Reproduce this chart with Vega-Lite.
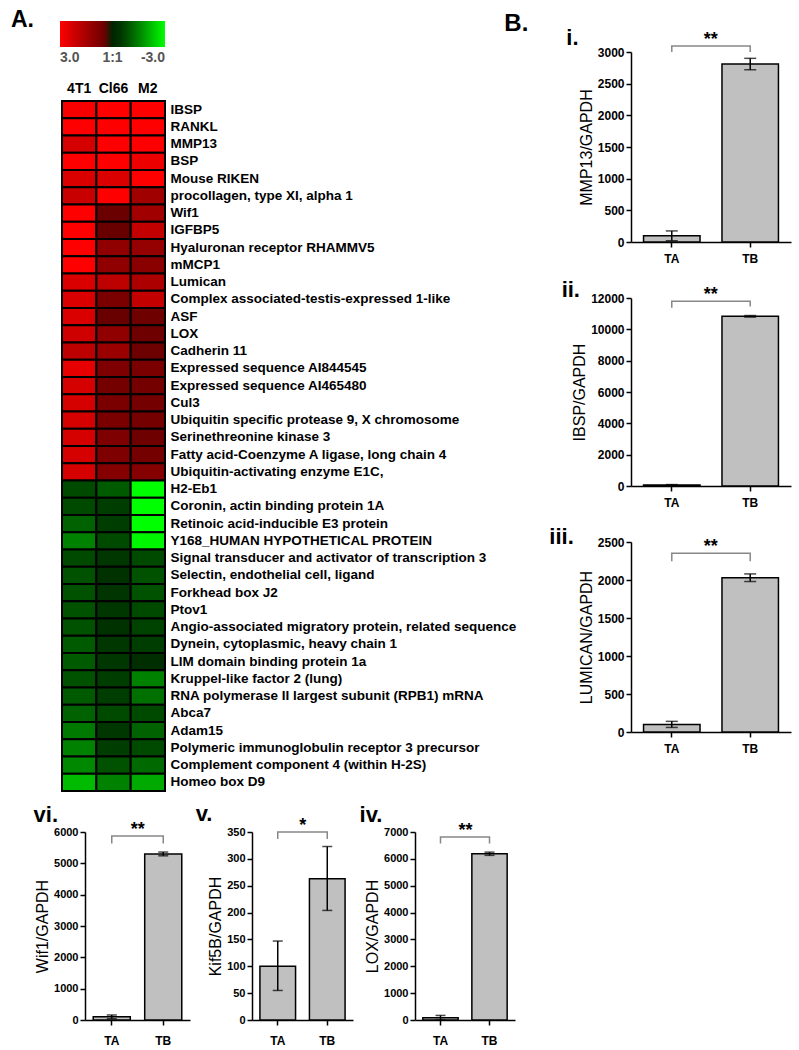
{
"$schema": "https://vega.github.io/schema/vega-lite/v6.json",
"background": "white",
"padding": {"left": 11, "top": 9, "right": 2, "bottom": 2},
"config": {
  "font": "Liberation Sans",
  "view": {"stroke": null},
  "title": {"font": "Liberation Sans", "fontWeight": "bold", "color": "black", "anchor": "start", "baseline": "alphabetic"},
  "axis": {"grid": false, "domainColor": "black", "tickColor": "black", "labelColor": "black", "titleColor": "black", "labelFont": "Liberation Sans", "titleFont": "Liberation Sans", "labelFontWeight": "bold", "labelFontSize": 12, "titleFontWeight": "normal", "titleFontSize": 16, "domainWidth": 1.5, "tickWidth": 1.5, "tickSize": 5}
},
"datasets": {
  "heat": [
    {"gene": "IBSP", "line": "4T1", "v": 2.9}, {"gene": "IBSP", "line": "Cl66", "v": 3}, {"gene": "IBSP", "line": "M2", "v": 3},
    {"gene": "RANKL", "line": "4T1", "v": 3}, {"gene": "RANKL", "line": "Cl66", "v": 3}, {"gene": "RANKL", "line": "M2", "v": 3},
    {"gene": "MMP13", "line": "4T1", "v": 2.3}, {"gene": "MMP13", "line": "Cl66", "v": 3}, {"gene": "MMP13", "line": "M2", "v": 3},
    {"gene": "BSP", "line": "4T1", "v": 3}, {"gene": "BSP", "line": "Cl66", "v": 3}, {"gene": "BSP", "line": "M2", "v": 2.7},
    {"gene": "Mouse RIKEN", "line": "4T1", "v": 2.4}, {"gene": "Mouse RIKEN", "line": "Cl66", "v": 2.4}, {"gene": "Mouse RIKEN", "line": "M2", "v": 3},
    {"gene": "procollagen, type XI, alpha 1", "line": "4T1", "v": 2.1}, {"gene": "procollagen, type XI, alpha 1", "line": "Cl66", "v": 3}, {"gene": "procollagen, type XI, alpha 1", "line": "M2", "v": 1.4},
    {"gene": "Wif1", "line": "4T1", "v": 3}, {"gene": "Wif1", "line": "Cl66", "v": 0.4}, {"gene": "Wif1", "line": "M2", "v": 1.4},
    {"gene": "IGFBP5", "line": "4T1", "v": 3}, {"gene": "IGFBP5", "line": "Cl66", "v": 0.35}, {"gene": "IGFBP5", "line": "M2", "v": 2.0},
    {"gene": "Hyaluronan receptor RHAMMV5", "line": "4T1", "v": 3}, {"gene": "Hyaluronan receptor RHAMMV5", "line": "Cl66", "v": 1.1}, {"gene": "Hyaluronan receptor RHAMMV5", "line": "M2", "v": 1.2},
    {"gene": "mMCP1", "line": "4T1", "v": 3}, {"gene": "mMCP1", "line": "Cl66", "v": 1.1}, {"gene": "mMCP1", "line": "M2", "v": 1.0},
    {"gene": "Lumican", "line": "4T1", "v": 2.4}, {"gene": "Lumican", "line": "Cl66", "v": 1.9}, {"gene": "Lumican", "line": "M2", "v": 1.6},
    {"gene": "Complex associated-testis-expressed 1-like", "line": "4T1", "v": 2.4}, {"gene": "Complex associated-testis-expressed 1-like", "line": "Cl66", "v": 0.7}, {"gene": "Complex associated-testis-expressed 1-like", "line": "M2", "v": 2.0},
    {"gene": "ASF", "line": "4T1", "v": 2.4}, {"gene": "ASF", "line": "Cl66", "v": 0.35}, {"gene": "ASF", "line": "M2", "v": 0.5},
    {"gene": "LOX", "line": "4T1", "v": 2.2}, {"gene": "LOX", "line": "Cl66", "v": 1.1}, {"gene": "LOX", "line": "M2", "v": 0.5},
    {"gene": "Cadherin 11", "line": "4T1", "v": 1.9}, {"gene": "Cadherin 11", "line": "Cl66", "v": 1.3}, {"gene": "Cadherin 11", "line": "M2", "v": 0.45},
    {"gene": "Expressed sequence AI844545", "line": "4T1", "v": 2.6}, {"gene": "Expressed sequence AI844545", "line": "Cl66", "v": 0.8}, {"gene": "Expressed sequence AI844545", "line": "M2", "v": 0.7},
    {"gene": "Expressed sequence AI465480", "line": "4T1", "v": 2.3}, {"gene": "Expressed sequence AI465480", "line": "Cl66", "v": 0.6}, {"gene": "Expressed sequence AI465480", "line": "M2", "v": 0.6},
    {"gene": "Cul3", "line": "4T1", "v": 2.3}, {"gene": "Cul3", "line": "Cl66", "v": 0.7}, {"gene": "Cul3", "line": "M2", "v": 0.6},
    {"gene": "Ubiquitin specific protease 9, X chromosome", "line": "4T1", "v": 2.3}, {"gene": "Ubiquitin specific protease 9, X chromosome", "line": "Cl66", "v": 0.7}, {"gene": "Ubiquitin specific protease 9, X chromosome", "line": "M2", "v": 0.6},
    {"gene": "Serinethreonine kinase 3", "line": "4T1", "v": 2.3}, {"gene": "Serinethreonine kinase 3", "line": "Cl66", "v": 0.8}, {"gene": "Serinethreonine kinase 3", "line": "M2", "v": 0.5},
    {"gene": "Fatty acid-Coenzyme A ligase, long chain 4", "line": "4T1", "v": 2.3}, {"gene": "Fatty acid-Coenzyme A ligase, long chain 4", "line": "Cl66", "v": 0.8}, {"gene": "Fatty acid-Coenzyme A ligase, long chain 4", "line": "M2", "v": 0.6},
    {"gene": "Ubiquitin-activating enzyme E1C,", "line": "4T1", "v": 2.3}, {"gene": "Ubiquitin-activating enzyme E1C,", "line": "Cl66", "v": 0.9}, {"gene": "Ubiquitin-activating enzyme E1C,", "line": "M2", "v": 0.9},
    {"gene": "H2-Eb1", "line": "4T1", "v": -0.8}, {"gene": "H2-Eb1", "line": "Cl66", "v": -1.0}, {"gene": "H2-Eb1", "line": "M2", "v": -3},
    {"gene": "Coronin, actin binding protein 1A", "line": "4T1", "v": -0.8}, {"gene": "Coronin, actin binding protein 1A", "line": "Cl66", "v": -0.6}, {"gene": "Coronin, actin binding protein 1A", "line": "M2", "v": -3},
    {"gene": "Retinoic acid-inducible E3 protein", "line": "4T1", "v": -1.1}, {"gene": "Retinoic acid-inducible E3 protein", "line": "Cl66", "v": -0.6}, {"gene": "Retinoic acid-inducible E3 protein", "line": "M2", "v": -3},
    {"gene": "Y168_HUMAN HYPOTHETICAL PROTEIN", "line": "4T1", "v": -1.5}, {"gene": "Y168_HUMAN HYPOTHETICAL PROTEIN", "line": "Cl66", "v": -0.8}, {"gene": "Y168_HUMAN HYPOTHETICAL PROTEIN", "line": "M2", "v": -2.9},
    {"gene": "Signal transducer and activator of transcription 3", "line": "4T1", "v": -0.8}, {"gene": "Signal transducer and activator of transcription 3", "line": "Cl66", "v": -0.5}, {"gene": "Signal transducer and activator of transcription 3", "line": "M2", "v": -0.8},
    {"gene": "Selectin, endothelial cell, ligand", "line": "4T1", "v": -0.9}, {"gene": "Selectin, endothelial cell, ligand", "line": "Cl66", "v": -0.4}, {"gene": "Selectin, endothelial cell, ligand", "line": "M2", "v": -0.9},
    {"gene": "Forkhead box J2", "line": "4T1", "v": -0.9}, {"gene": "Forkhead box J2", "line": "Cl66", "v": -0.45}, {"gene": "Forkhead box J2", "line": "M2", "v": -0.9},
    {"gene": "Ptov1", "line": "4T1", "v": -0.9}, {"gene": "Ptov1", "line": "Cl66", "v": -0.5}, {"gene": "Ptov1", "line": "M2", "v": -0.8},
    {"gene": "Angio-associated migratory protein, related sequence", "line": "4T1", "v": -0.9}, {"gene": "Angio-associated migratory protein, related sequence", "line": "Cl66", "v": -0.4}, {"gene": "Angio-associated migratory protein, related sequence", "line": "M2", "v": -0.7},
    {"gene": "Dynein, cytoplasmic, heavy chain 1", "line": "4T1", "v": -1.0}, {"gene": "Dynein, cytoplasmic, heavy chain 1", "line": "Cl66", "v": -0.5}, {"gene": "Dynein, cytoplasmic, heavy chain 1", "line": "M2", "v": -0.6},
    {"gene": "LIM domain binding protein 1a", "line": "4T1", "v": -1.0}, {"gene": "LIM domain binding protein 1a", "line": "Cl66", "v": -0.5}, {"gene": "LIM domain binding protein 1a", "line": "M2", "v": -0.3},
    {"gene": "Kruppel-like factor 2 (lung)", "line": "4T1", "v": -0.9}, {"gene": "Kruppel-like factor 2 (lung)", "line": "Cl66", "v": -0.6}, {"gene": "Kruppel-like factor 2 (lung)", "line": "M2", "v": -1.5},
    {"gene": "RNA polymerase II largest subunit (RPB1) mRNA", "line": "4T1", "v": -1.0}, {"gene": "RNA polymerase II largest subunit (RPB1) mRNA", "line": "Cl66", "v": -0.6}, {"gene": "RNA polymerase II largest subunit (RPB1) mRNA", "line": "M2", "v": -1.3},
    {"gene": "Abca7", "line": "4T1", "v": -1.1}, {"gene": "Abca7", "line": "Cl66", "v": -0.8}, {"gene": "Abca7", "line": "M2", "v": -0.8},
    {"gene": "Adam15", "line": "4T1", "v": -1.4}, {"gene": "Adam15", "line": "Cl66", "v": -0.5}, {"gene": "Adam15", "line": "M2", "v": -1.1},
    {"gene": "Polymeric immunoglobulin receptor 3 precursor", "line": "4T1", "v": -1.5}, {"gene": "Polymeric immunoglobulin receptor 3 precursor", "line": "Cl66", "v": -0.6}, {"gene": "Polymeric immunoglobulin receptor 3 precursor", "line": "M2", "v": -0.8},
    {"gene": "Complement component 4 (within H-2S)", "line": "4T1", "v": -1.6}, {"gene": "Complement component 4 (within H-2S)", "line": "Cl66", "v": -0.9}, {"gene": "Complement component 4 (within H-2S)", "line": "M2", "v": -1.2},
    {"gene": "Homeo box D9", "line": "4T1", "v": -2.2}, {"gene": "Homeo box D9", "line": "Cl66", "v": -1.5}, {"gene": "Homeo box D9", "line": "M2", "v": -2.0}
  ],
  "bars": [
    {"p": "i", "g": "TA", "m": 100, "lo": 20, "hi": 175},
    {"p": "i", "g": "TB", "m": 2810, "lo": 2720, "hi": 2900},
    {"p": "ii", "g": "TA", "m": 60, "lo": 30, "hi": 90},
    {"p": "ii", "g": "TB", "m": 10830, "lo": 10780, "hi": 10880},
    {"p": "iii", "g": "TA", "m": 100, "lo": 60, "hi": 140},
    {"p": "iii", "g": "TB", "m": 2030, "lo": 1980, "hi": 2080},
    {"p": "vi", "g": "TA", "m": 100, "lo": 40, "hi": 160},
    {"p": "vi", "g": "TB", "m": 5300, "lo": 5240, "hi": 5360},
    {"p": "v", "g": "TA", "m": 100, "lo": 55, "hi": 147},
    {"p": "v", "g": "TB", "m": 263, "lo": 204, "hi": 323},
    {"p": "iv", "g": "TA", "m": 85, "lo": 0, "hi": 170},
    {"p": "iv", "g": "TB", "m": 6190, "lo": 6130, "hi": 6250}
  ],
  "br": [
    {"p": "i", "g": "TA", "y": 3000, "o": 0}, {"p": "i", "g": "TA", "y": 3095, "o": 1}, {"p": "i", "g": "TB", "y": 3095, "o": 2}, {"p": "i", "g": "TB", "y": 3000, "o": 3},
    {"p": "ii", "g": "TA", "y": 11370, "o": 0}, {"p": "ii", "g": "TA", "y": 11800, "o": 1}, {"p": "ii", "g": "TB", "y": 11800, "o": 2}, {"p": "ii", "g": "TB", "y": 11450, "o": 3},
    {"p": "iii", "g": "TA", "y": 2246, "o": 0}, {"p": "iii", "g": "TA", "y": 2351, "o": 1}, {"p": "iii", "g": "TB", "y": 2351, "o": 2}, {"p": "iii", "g": "TB", "y": 2246, "o": 3},
    {"p": "vi", "g": "TA", "y": 5630, "o": 0}, {"p": "vi", "g": "TA", "y": 5873, "o": 1}, {"p": "vi", "g": "TB", "y": 5873, "o": 2}, {"p": "vi", "g": "TB", "y": 5630, "o": 3},
    {"p": "v", "g": "TA", "y": 337, "o": 0}, {"p": "v", "g": "TA", "y": 350, "o": 1}, {"p": "v", "g": "TB", "y": 350, "o": 2}, {"p": "v", "g": "TB", "y": 337, "o": 3},
    {"p": "iv", "g": "TA", "y": 6568, "o": 0}, {"p": "iv", "g": "TA", "y": 6814, "o": 1}, {"p": "iv", "g": "TB", "y": 6814, "o": 2}, {"p": "iv", "g": "TB", "y": 6568, "o": 3}
  ],
  "st": [
    {"p": "i", "g": "TA", "y": 3110, "t": "**"},
    {"p": "ii", "g": "TA", "y": 11850, "t": "**"},
    {"p": "iii", "g": "TA", "y": 2365, "t": "**"},
    {"p": "vi", "g": "TA", "y": 5900, "t": "**"},
    {"p": "v", "g": "TA", "y": 351, "t": "*"},
    {"p": "iv", "g": "TA", "y": 6840, "t": "**"}
  ]
},
"spacing": 11,
"vconcat": [
  {
    "spacing": -12,
    "hconcat": [
      {
        "width": 103,
        "height": 739,
        "title": {"text": "A.", "fontSize": 23, "dx": -50, "offset": 20},
        "data": {"name": "heat"},
        "mark": {"type": "rect", "stroke": "black", "strokeWidth": 2},
        "encoding": {
          "x": {"field": "line", "type": "nominal", "sort": null, "scale": {"paddingInner": 0, "paddingOuter": 0},
                "axis": {"orient": "top", "title": null, "labelAngle": 0, "domain": false, "ticks": false, "labelFontSize": 14, "labelPadding": 6, "offset": -49}},
          "y": {"field": "gene", "type": "nominal",
                "scale": {"paddingInner": 0, "paddingOuter": 0.42, "align": 1,
                          "domain": [" ", "  ", "IBSP", "RANKL", "MMP13", "BSP", "Mouse RIKEN", "procollagen, type XI, alpha 1", "Wif1", "IGFBP5", "Hyaluronan receptor RHAMMV5", "mMCP1", "Lumican", "Complex associated-testis-expressed 1-like", "ASF", "LOX", "Cadherin 11", "Expressed sequence AI844545", "Expressed sequence AI465480", "Cul3", "Ubiquitin specific protease 9, X chromosome", "Serinethreonine kinase 3", "Fatty acid-Coenzyme A ligase, long chain 4", "Ubiquitin-activating enzyme E1C,", "H2-Eb1", "Coronin, actin binding protein 1A", "Retinoic acid-inducible E3 protein", "Y168_HUMAN HYPOTHETICAL PROTEIN", "Signal transducer and activator of transcription 3", "Selectin, endothelial cell, ligand", "Forkhead box J2", "Ptov1", "Angio-associated migratory protein, related sequence", "Dynein, cytoplasmic, heavy chain 1", "LIM domain binding protein 1a", "Kruppel-like factor 2 (lung)", "RNA polymerase II largest subunit (RPB1) mRNA", "Abca7", "Adam15", "Polymeric immunoglobulin receptor 3 precursor", "Complement component 4 (within H-2S)", "Homeo box D9"]},
                "axis": {"orient": "right", "title": null, "domain": false, "ticks": false, "labelFontSize": 13.5, "labelPadding": 5, "labelLimit": 420}},
          "color": {"field": "v", "type": "quantitative",
                    "scale": {"domain": [3, 0, -3], "range": ["#ff0000", "#000000", "#00ff00"]},
                    "legend": {"orient": "none", "legendX": -2, "legendY": -31, "direction": "horizontal", "gradientLength": 105, "gradientThickness": 26, "title": null,
                               "values": [3, 0, -3], "labelExpr": "datum.value == 3 ? '3.0' : datum.value == 0 ? '1:1' : '-3.0'",
                               "labelFontSize": 14, "labelColor": "#555555", "labelFontWeight": "bold", "labelOffset": 4, "gradientStrokeWidth": 0}}
        }
      },
      {
        "title": {"text": "B.", "fontSize": 24, "dx": -45, "offset": -9},
        "bounds": "flush",
        "spacing": 56,
        "vconcat": [
          {
            "width": 160, "height": 190,
            "title": {"text": "i.", "fontSize": 22, "dx": -12, "offset": -19},
            "layer": [
              {"data": {"name": "bars"}, "transform": [{"filter": "datum.p == 'i'"}],
               "mark": {"type": "bar", "color": "#c0c0c0", "stroke": "black", "strokeWidth": 1.5},
               "encoding": {"x": {"field": "g", "type": "nominal", "scale": {"paddingInner": 0.28, "paddingOuter": 0.16}, "axis": {"title": null, "labelAngle": 0, "labelPadding": 6}},
                            "y": {"field": "m", "type": "quantitative", "title": "MMP13/GAPDH", "scale": {"domain": [0, 3000], "nice": false}, "axis": {"values": [0, 500, 1000, 1500, 2000, 2500, 3000], "format": "d", "titlePadding": 3}}}},
              {"data": {"name": "bars"}, "transform": [{"filter": "datum.p == 'i'"}],
               "mark": {"type": "errorbar", "ticks": {"size": 12}, "color": "black", "thickness": 1.5},
               "encoding": {"x": {"field": "g", "type": "nominal"}, "y": {"field": "lo", "type": "quantitative", "title": "MMP13/GAPDH", "axis": {"values": [0, 500, 1000, 1500, 2000, 2500, 3000], "format": "d", "titlePadding": 3}}, "y2": {"field": "hi"}}},
              {"data": {"name": "br"}, "transform": [{"filter": "datum.p == 'i'"}],
               "mark": {"type": "line", "color": "#888888", "strokeWidth": 1.5},
               "encoding": {"x": {"field": "g", "type": "nominal"}, "y": {"field": "y", "type": "quantitative", "title": "MMP13/GAPDH", "axis": {"values": [0, 500, 1000, 1500, 2000, 2500, 3000], "format": "d", "titlePadding": 3}}, "order": {"field": "o"}}},
              {"data": {"name": "st"}, "transform": [{"filter": "datum.p == 'i'"}],
               "mark": {"type": "text", "fontSize": 18, "fontWeight": "bold", "dx": 39, "baseline": "alphabetic"},
               "encoding": {"x": {"field": "g", "type": "nominal"}, "y": {"field": "y", "type": "quantitative", "title": "MMP13/GAPDH", "axis": {"values": [0, 500, 1000, 1500, 2000, 2500, 3000], "format": "d", "titlePadding": 3}}, "text": {"field": "t"}}}
            ]
          },
          {
            "width": 160, "height": 188,
            "title": {"text": "ii.", "fontSize": 22, "dx": -10, "offset": -16},
            "layer": [
              {"data": {"name": "bars"}, "transform": [{"filter": "datum.p == 'ii'"}],
               "mark": {"type": "bar", "color": "#c0c0c0", "stroke": "black", "strokeWidth": 1.5},
               "encoding": {"x": {"field": "g", "type": "nominal", "scale": {"paddingInner": 0.28, "paddingOuter": 0.16}, "axis": {"title": null, "labelAngle": 0, "labelPadding": 6}},
                            "y": {"field": "m", "type": "quantitative", "title": "IBSP/GAPDH", "scale": {"domain": [0, 12000], "nice": false}, "axis": {"values": [0, 2000, 4000, 6000, 8000, 10000, 12000], "format": "d", "titlePadding": 3}}}},
              {"data": {"name": "bars"}, "transform": [{"filter": "datum.p == 'ii'"}],
               "mark": {"type": "errorbar", "ticks": {"size": 12}, "color": "black", "thickness": 1.5},
               "encoding": {"x": {"field": "g", "type": "nominal"}, "y": {"field": "lo", "type": "quantitative", "title": "IBSP/GAPDH", "axis": {"values": [0, 2000, 4000, 6000, 8000, 10000, 12000], "format": "d", "titlePadding": 3}}, "y2": {"field": "hi"}}},
              {"data": {"name": "br"}, "transform": [{"filter": "datum.p == 'ii'"}],
               "mark": {"type": "line", "color": "#888888", "strokeWidth": 1.5},
               "encoding": {"x": {"field": "g", "type": "nominal"}, "y": {"field": "y", "type": "quantitative", "title": "IBSP/GAPDH", "axis": {"values": [0, 2000, 4000, 6000, 8000, 10000, 12000], "format": "d", "titlePadding": 3}}, "order": {"field": "o"}}},
              {"data": {"name": "st"}, "transform": [{"filter": "datum.p == 'ii'"}],
               "mark": {"type": "text", "fontSize": 18, "fontWeight": "bold", "dx": 39, "baseline": "alphabetic"},
               "encoding": {"x": {"field": "g", "type": "nominal"}, "y": {"field": "y", "type": "quantitative", "title": "IBSP/GAPDH", "axis": {"values": [0, 2000, 4000, 6000, 8000, 10000, 12000], "format": "d", "titlePadding": 3}}, "text": {"field": "t"}}}
            ]
          },
          {
            "width": 160, "height": 190,
            "title": {"text": "iii.", "fontSize": 22, "dx": -29, "offset": -13},
            "layer": [
              {"data": {"name": "bars"}, "transform": [{"filter": "datum.p == 'iii'"}],
               "mark": {"type": "bar", "color": "#c0c0c0", "stroke": "black", "strokeWidth": 1.5},
               "encoding": {"x": {"field": "g", "type": "nominal", "scale": {"paddingInner": 0.28, "paddingOuter": 0.16}, "axis": {"title": null, "labelAngle": 0, "labelPadding": 6}},
                            "y": {"field": "m", "type": "quantitative", "title": "LUMICAN/GAPDH", "scale": {"domain": [0, 2500], "nice": false}, "axis": {"values": [0, 500, 1000, 1500, 2000, 2500], "format": "d", "titlePadding": 3}}}},
              {"data": {"name": "bars"}, "transform": [{"filter": "datum.p == 'iii'"}],
               "mark": {"type": "errorbar", "ticks": {"size": 12}, "color": "black", "thickness": 1.5},
               "encoding": {"x": {"field": "g", "type": "nominal"}, "y": {"field": "lo", "type": "quantitative", "title": "LUMICAN/GAPDH", "axis": {"values": [0, 500, 1000, 1500, 2000, 2500], "format": "d", "titlePadding": 3}}, "y2": {"field": "hi"}}},
              {"data": {"name": "br"}, "transform": [{"filter": "datum.p == 'iii'"}],
               "mark": {"type": "line", "color": "#888888", "strokeWidth": 1.5},
               "encoding": {"x": {"field": "g", "type": "nominal"}, "y": {"field": "y", "type": "quantitative", "title": "LUMICAN/GAPDH", "axis": {"values": [0, 500, 1000, 1500, 2000, 2500], "format": "d", "titlePadding": 3}}, "order": {"field": "o"}}},
              {"data": {"name": "st"}, "transform": [{"filter": "datum.p == 'iii'"}],
               "mark": {"type": "text", "fontSize": 18, "fontWeight": "bold", "dx": 39, "baseline": "alphabetic"},
               "encoding": {"x": {"field": "g", "type": "nominal"}, "y": {"field": "y", "type": "quantitative", "title": "LUMICAN/GAPDH", "axis": {"values": [0, 500, 1000, 1500, 2000, 2500], "format": "d", "titlePadding": 3}}, "text": {"field": "t"}}}
            ]
          }
        ]
      }
    ]
  },
  {
    "spacing": -30,
    "hconcat": [
      {"width": 1, "height": 1, "data": {"values": []}, "mark": {"type": "point", "opacity": 0}},
      {
        "bounds": "flush",
        "spacing": 62,
        "hconcat": [
          {
            "width": 105, "height": 188,
            "title": {"text": "vi.", "fontSize": 22, "dx": -1, "offset": -6},
            "layer": [
              {"data": {"name": "bars"}, "transform": [{"filter": "datum.p == 'vi'"}],
               "mark": {"type": "bar", "color": "#c0c0c0", "stroke": "black", "strokeWidth": 1.5},
               "encoding": {"x": {"field": "g", "type": "nominal", "scale": {"paddingInner": 0.28, "paddingOuter": 0.16}, "axis": {"title": null, "labelAngle": 0, "labelPadding": 10}},
                            "y": {"field": "m", "type": "quantitative", "title": "Wif1/GAPDH", "scale": {"domain": [0, 6000], "nice": false}, "axis": {"values": [0, 1000, 2000, 3000, 4000, 5000, 6000], "format": "d", "titlePadding": 3, "labelFontSize": 11}}}},
              {"data": {"name": "bars"}, "transform": [{"filter": "datum.p == 'vi'"}],
               "mark": {"type": "errorbar", "ticks": {"size": 10}, "color": "black", "thickness": 1.5},
               "encoding": {"x": {"field": "g", "type": "nominal"}, "y": {"field": "lo", "type": "quantitative", "title": "Wif1/GAPDH", "axis": {"values": [0, 1000, 2000, 3000, 4000, 5000, 6000], "format": "d", "titlePadding": 3, "labelFontSize": 11}}, "y2": {"field": "hi"}}},
              {"data": {"name": "br"}, "transform": [{"filter": "datum.p == 'vi'"}],
               "mark": {"type": "line", "color": "#888888", "strokeWidth": 1.5},
               "encoding": {"x": {"field": "g", "type": "nominal"}, "y": {"field": "y", "type": "quantitative", "title": "Wif1/GAPDH", "axis": {"values": [0, 1000, 2000, 3000, 4000, 5000, 6000], "format": "d", "titlePadding": 3, "labelFontSize": 11}}, "order": {"field": "o"}}},
              {"data": {"name": "st"}, "transform": [{"filter": "datum.p == 'vi'"}],
               "mark": {"type": "text", "fontSize": 18, "fontWeight": "bold", "dx": 26, "baseline": "alphabetic"},
               "encoding": {"x": {"field": "g", "type": "nominal"}, "y": {"field": "y", "type": "quantitative", "title": "Wif1/GAPDH", "axis": {"values": [0, 1000, 2000, 3000, 4000, 5000, 6000], "format": "d", "titlePadding": 3, "labelFontSize": 11}}, "text": {"field": "t"}}}
            ]
          },
          {
            "width": 101, "height": 188,
            "title": {"text": "v.", "fontSize": 22, "dx": -12, "offset": -9},
            "layer": [
              {"data": {"name": "bars"}, "transform": [{"filter": "datum.p == 'v'"}],
               "mark": {"type": "bar", "color": "#c0c0c0", "stroke": "black", "strokeWidth": 1.5},
               "encoding": {"x": {"field": "g", "type": "nominal", "scale": {"paddingInner": 0.28, "paddingOuter": 0.16}, "axis": {"title": null, "labelAngle": 0, "labelPadding": 10}},
                            "y": {"field": "m", "type": "quantitative", "title": "Kif5B/GAPDH", "scale": {"domain": [0, 350], "nice": false}, "axis": {"values": [0, 50, 100, 150, 200, 250, 300, 350], "format": "d", "titlePadding": 3, "labelFontSize": 11}}}},
              {"data": {"name": "bars"}, "transform": [{"filter": "datum.p == 'v'"}],
               "mark": {"type": "errorbar", "ticks": {"size": 10}, "color": "black", "thickness": 1.5},
               "encoding": {"x": {"field": "g", "type": "nominal"}, "y": {"field": "lo", "type": "quantitative", "title": "Kif5B/GAPDH", "axis": {"values": [0, 50, 100, 150, 200, 250, 300, 350], "format": "d", "titlePadding": 3, "labelFontSize": 11}}, "y2": {"field": "hi"}}},
              {"data": {"name": "br"}, "transform": [{"filter": "datum.p == 'v'"}],
               "mark": {"type": "line", "color": "#888888", "strokeWidth": 1.5},
               "encoding": {"x": {"field": "g", "type": "nominal"}, "y": {"field": "y", "type": "quantitative", "title": "Kif5B/GAPDH", "axis": {"values": [0, 50, 100, 150, 200, 250, 300, 350], "format": "d", "titlePadding": 3, "labelFontSize": 11}}, "order": {"field": "o"}}},
              {"data": {"name": "st"}, "transform": [{"filter": "datum.p == 'v'"}],
               "mark": {"type": "text", "fontSize": 18, "fontWeight": "bold", "dx": 25, "baseline": "alphabetic"},
               "encoding": {"x": {"field": "g", "type": "nominal"}, "y": {"field": "y", "type": "quantitative", "title": "Kif5B/GAPDH", "axis": {"values": [0, 50, 100, 150, 200, 250, 300, 350], "format": "d", "titlePadding": 3, "labelFontSize": 11}}, "text": {"field": "t"}}}
            ]
          },
          {
            "width": 100, "height": 188,
            "title": {"text": "iv.", "fontSize": 22, "dx": -5, "offset": -5},
            "layer": [
              {"data": {"name": "bars"}, "transform": [{"filter": "datum.p == 'iv'"}],
               "mark": {"type": "bar", "color": "#c0c0c0", "stroke": "black", "strokeWidth": 1.5},
               "encoding": {"x": {"field": "g", "type": "nominal", "scale": {"paddingInner": 0.28, "paddingOuter": 0.16}, "axis": {"title": null, "labelAngle": 0, "labelPadding": 10}},
                            "y": {"field": "m", "type": "quantitative", "title": "LOX/GAPDH", "scale": {"domain": [0, 7000], "nice": false}, "axis": {"values": [0, 1000, 2000, 3000, 4000, 5000, 6000, 7000], "format": "d", "titlePadding": 3, "labelFontSize": 11}}}},
              {"data": {"name": "bars"}, "transform": [{"filter": "datum.p == 'iv'"}],
               "mark": {"type": "errorbar", "ticks": {"size": 10}, "color": "black", "thickness": 1.5},
               "encoding": {"x": {"field": "g", "type": "nominal"}, "y": {"field": "lo", "type": "quantitative", "title": "LOX/GAPDH", "axis": {"values": [0, 1000, 2000, 3000, 4000, 5000, 6000, 7000], "format": "d", "titlePadding": 3, "labelFontSize": 11}}, "y2": {"field": "hi"}}},
              {"data": {"name": "br"}, "transform": [{"filter": "datum.p == 'iv'"}],
               "mark": {"type": "line", "color": "#888888", "strokeWidth": 1.5},
               "encoding": {"x": {"field": "g", "type": "nominal"}, "y": {"field": "y", "type": "quantitative", "title": "LOX/GAPDH", "axis": {"values": [0, 1000, 2000, 3000, 4000, 5000, 6000, 7000], "format": "d", "titlePadding": 3, "labelFontSize": 11}}, "order": {"field": "o"}}},
              {"data": {"name": "st"}, "transform": [{"filter": "datum.p == 'iv'"}],
               "mark": {"type": "text", "fontSize": 18, "fontWeight": "bold", "dx": 25, "baseline": "alphabetic"},
               "encoding": {"x": {"field": "g", "type": "nominal"}, "y": {"field": "y", "type": "quantitative", "title": "LOX/GAPDH", "axis": {"values": [0, 1000, 2000, 3000, 4000, 5000, 6000, 7000], "format": "d", "titlePadding": 3, "labelFontSize": 11}}, "text": {"field": "t"}}}
            ]
          }
        ]
      }
    ]
  }
]
}
